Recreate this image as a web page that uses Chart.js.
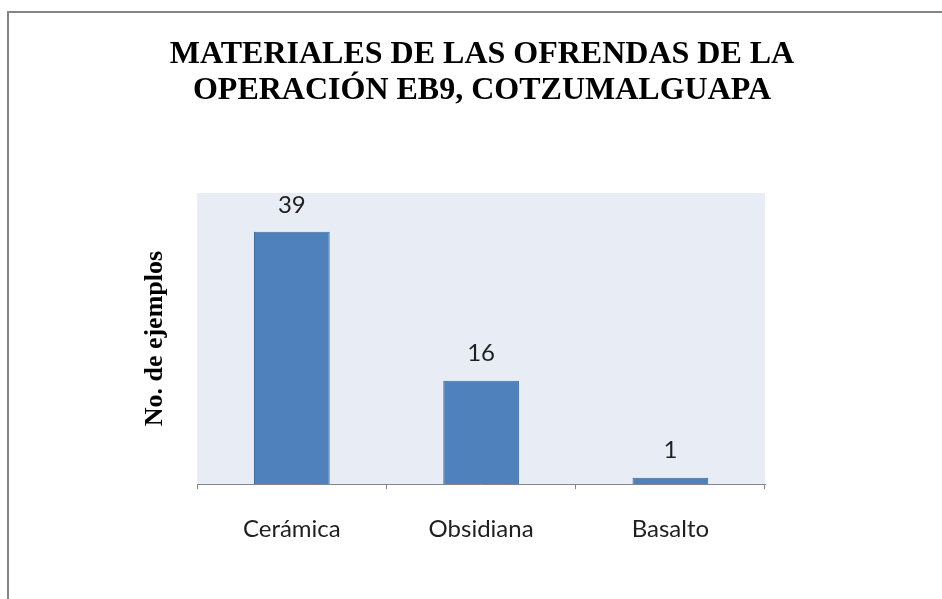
<!DOCTYPE html>
<html>
<head>
<meta charset="utf-8">
<script src="https://cdn.jsdelivr.net/npm/chart.js@4.4.1/dist/chart.umd.min.js"></script>
<style>
  html, body { margin: 0; padding: 0; background: #fff; }
  canvas { display: block; }
</style>
</head>
<body>
<canvas id="grafico" width="942" height="599"></canvas>
<script>
// Datos de la gráfica
const categorias = ['Cerámica', 'Obsidiana', 'Basalto'];
const ejemplos = [39, 16, 1];
const tituloLineas = ['MATERIALES DE LAS OFRENDAS DE LA', 'OPERACIÓN EB9, COTZUMALGUAPA'];
const tituloEjeY = 'No. de ejemplos';

// Fondo del área de trazado y marco exterior
const fondoPlugin = {
    id: 'fondo',
    beforeDraw(chart) {
        const { ctx, chartArea } = chart;
        ctx.save();
        ctx.fillStyle = '#ffffff';
        ctx.fillRect(0, 0, chart.width, chart.height);
        // marco gris (solo lados izquierdo y superior visibles)
        ctx.strokeStyle = '#858585';
        ctx.lineWidth = 2;
        ctx.beginPath();
        ctx.moveTo(8, chart.height);
        ctx.lineTo(8, 12);
        ctx.lineTo(chart.width, 12);
        ctx.stroke();
        // área de trazado
        ctx.fillStyle = '#E8ECF5';
        ctx.fillRect(chartArea.left, chartArea.top, chartArea.right - chartArea.left, chartArea.bottom - chartArea.top);
        ctx.restore();
    }
};

// Etiquetas de valor encima de cada barra
const etiquetasPlugin = {
    id: 'etiquetas',
    afterDatasetsDraw(chart) {
        const { ctx } = chart;
        const meta = chart.getDatasetMeta(0);
        ctx.save();
        ctx.font = '24px Lato, "Open Sans", sans-serif';
        ctx.fillStyle = '#1f1f1f';
        ctx.textAlign = 'center';
        ctx.textBaseline = 'middle';
        meta.data.forEach((bar, i) => {
            ctx.fillText(String(ejemplos[i]), bar.x, bar.y - 27);
        });
        ctx.restore();
    }
};

const ctx = document.getElementById('grafico').getContext('2d');
new Chart(ctx, {
    type: 'bar',
    data: {
        labels: categorias,
        datasets: [{
            data: ejemplos,
            backgroundColor: '#4F81BD',
            borderColor: '#3E6B9E',
            borderWidth: 1,
            categoryPercentage: 1,
            barPercentage: 0.4
        }]
    },
    options: {
        responsive: false,
        animation: false,
        layout: {
            padding: { left: 22, right: 0, top: 0, bottom: 29 }
        },
        plugins: {
            legend: { display: false },
            tooltip: { enabled: false },
            title: {
                display: true,
                text: tituloLineas,
                color: '#000000',
                font: { family: '"Liberation Serif", "Times New Roman", serif', size: 32, weight: 'bold', lineHeight: 1.11 },
                padding: { top: 37, bottom: 85 }
            }
        },
        scales: {
            x: {
                grid: {
                    display: true,
                    drawOnChartArea: false,
                    drawTicks: true,
                    tickLength: 5,
                    color: '#868686'
                },
                border: { display: true, color: '#868686', width: 1 },
                ticks: {
                    padding: 26,
                    color: '#1f1f1f',
                    font: { family: 'Lato, "Open Sans", sans-serif', size: 24 }
                }
            },
            y: {
                min: 0,
                max: 45,
                grid: { display: false, drawTicks: false },
                border: { display: false },
                ticks: { display: false },
                title: {
                    display: true,
                    text: tituloEjeY,
                    color: '#000000',
                    font: { family: '"Liberation Serif", "Times New Roman", serif', size: 26, weight: 'bold' },
                    padding: { top: 118, bottom: 26 }
                }
            },
            derecha: {
                type: 'linear',
                position: 'right',
                grid: { display: false, drawTicks: false },
                border: { display: false },
                ticks: { display: false },
                afterFit(scale) { scale.width = 177; }
            }
        }
    },
    plugins: [fondoPlugin, etiquetasPlugin]
});
</script>
</body>
</html>
